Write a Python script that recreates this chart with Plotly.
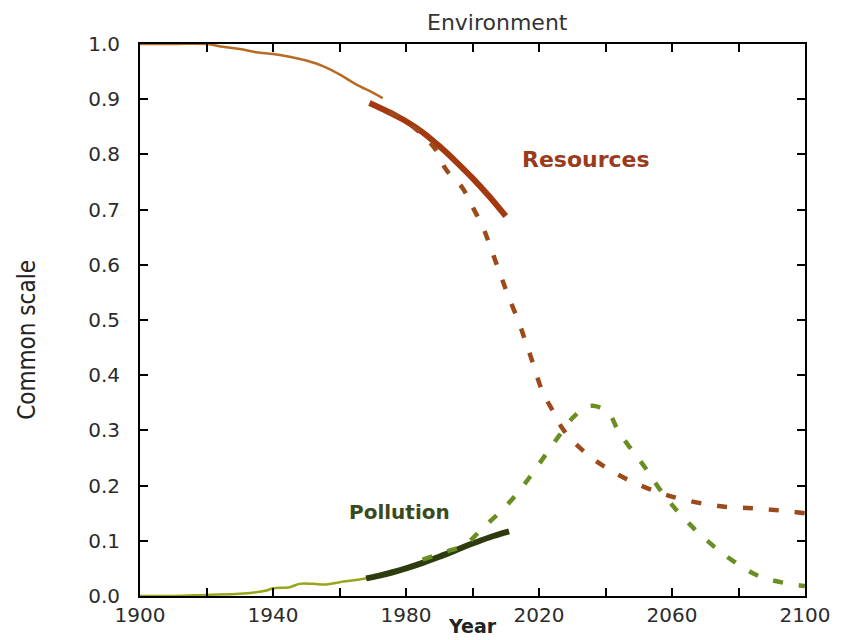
import plotly.graph_objects as go

# ---------------- data ----------------
res_hist_years = [1900, 1910, 1920, 1925, 1930, 1935, 1940, 1945, 1950, 1955, 1960, 1965, 1970, 1973]
res_hist_vals = [1.0, 1.0, 1.0, 0.995, 0.991, 0.985, 0.982, 0.977, 0.970, 0.960, 0.945, 0.927, 0.912, 0.902]

res_obs_years = [1969, 1975, 1980, 1985, 1990, 1995, 2000, 2005, 2010]
res_obs_vals = [0.893, 0.876, 0.860, 0.840, 0.815, 0.787, 0.757, 0.724, 0.688]

res_proj_years = [1975, 1980, 1985, 1989, 1992, 1997, 2000, 2003, 2005, 2007, 2009, 2011, 2014, 2016,
                  2018, 2021, 2024, 2027, 2032, 2039, 2048, 2060, 2074, 2087, 2100]
res_proj_vals = [0.878, 0.860, 0.835, 0.808, 0.773, 0.739, 0.705, 0.670, 0.639, 0.605, 0.572, 0.540,
                 0.495, 0.460, 0.425, 0.371, 0.337, 0.304, 0.270, 0.237, 0.207, 0.180, 0.163, 0.158, 0.150]

pol_hist_years = [1900, 1910, 1920, 1930, 1935, 1938, 1940, 1945, 1948, 1952, 1956, 1960, 1966, 1970]
pol_hist_vals = [0.0, 0.0, 0.002, 0.004, 0.007, 0.010, 0.014, 0.016, 0.022, 0.022, 0.021, 0.025, 0.030, 0.034]

pol_obs_years = [1968, 1972, 1976, 1980, 1985, 1990, 1995, 2000, 2005, 2011]
pol_obs_vals = [0.032, 0.037, 0.043, 0.050, 0.060, 0.071, 0.083, 0.095, 0.106, 0.117]

pol_proj_years = [1985, 1992, 1998, 2003, 2009, 2014, 2018, 2022, 2026, 2030, 2034, 2037, 2041,
                  2044, 2048, 2052, 2056, 2060, 2065, 2071, 2078, 2087, 2100]
pol_proj_vals = [0.066, 0.080, 0.094, 0.123, 0.156, 0.190, 0.222, 0.256, 0.290, 0.322, 0.342, 0.344, 0.331,
                 0.297, 0.264, 0.232, 0.196, 0.165, 0.132, 0.098, 0.065, 0.034, 0.018]

x_tick_vals = [1900, 1920, 1940, 1960, 1980, 2000, 2020, 2040, 2060, 2080, 2100]
x_tick_text = ["1900", "", "1940", "", "1980", "", "2020", "", "2060", "", "2100"]
y_tick_vals = [0.0, 0.1, 0.2, 0.3, 0.4, 0.5, 0.6, 0.7, 0.8, 0.9, 1.0]
y_tick_text = ["0.0", "0.1", "0.2", "0.3", "0.4", "0.5", "0.6", "0.7", "0.8", "0.9", "1.0"]

# ---------------- figure ----------------
fig = go.Figure()
dash_pat = "10px,16px"

fig.add_trace(go.Scatter(x=res_hist_years, y=res_hist_vals, mode="lines", line_shape="spline",
                         line=dict(color="#b86b25", width=2.5), showlegend=False))
fig.add_trace(go.Scatter(x=pol_hist_years, y=pol_hist_vals, mode="lines", line_shape="spline",
                         line=dict(color="#9aa51a", width=2.5), showlegend=False))
fig.add_trace(go.Scatter(x=res_obs_years, y=res_obs_vals, mode="lines", line_shape="spline",
                         line=dict(color="#a5380e", width=6), showlegend=False))
fig.add_trace(go.Scatter(x=pol_obs_years, y=pol_obs_vals, mode="lines", line_shape="spline",
                         line=dict(color="#2d3b0e", width=6), showlegend=False))
fig.add_trace(go.Scatter(x=res_proj_years, y=res_proj_vals, mode="lines", line_shape="spline",
                         line=dict(color="#9c4a1a", width=4.5, dash=dash_pat), showlegend=False))
fig.add_trace(go.Scatter(x=pol_proj_years, y=pol_proj_vals, mode="lines", line_shape="spline",
                         line=dict(color="#6b8e23", width=4.5, dash=dash_pat), showlegend=False))

tick_font = dict(family="DejaVu Sans", size=20, color="#2b2b2b")

fig.update_xaxes(range=[1900, 2100], tickvals=x_tick_vals, ticktext=x_tick_text,
                 showline=True, linecolor="black", linewidth=2, mirror="allticks",
                 ticks="inside", ticklen=8, tickwidth=2, tickcolor="black",
                 showgrid=False, zeroline=False, tickfont=tick_font, ticklabelstandoff=0)
fig.update_yaxes(range=[0, 1.0], tickvals=y_tick_vals, ticktext=y_tick_text,
                 showline=True, linecolor="black", linewidth=2, mirror="allticks",
                 ticks="inside", ticklen=8, tickwidth=2, tickcolor="black",
                 showgrid=False, zeroline=False, tickfont=tick_font, ticklabelstandoff=14)

annotations = [
    dict(text="Environment", xref="paper", yref="paper", x=0.537, y=1.0652,
         xanchor="center", yanchor="top", showarrow=False,
         font=dict(family="DejaVu Sans", size=22, color="#333333")),
    dict(text="Year", xref="paper", yref="paper", x=0.5, y=-0.0543,
         xanchor="center", yanchor="middle", showarrow=False,
         font=dict(family="DejaVu Sans", size=19, color="#222222", weight="bold")),
    dict(text="Common scale", xref="paper", yref="paper", x=-0.170, y=0.464,
         xanchor="center", yanchor="middle", showarrow=False, textangle=-90,
         font=dict(family="Liberation Sans Narrow, DejaVu Sans Condensed, sans-serif", size=24, color="#222222")),
    dict(text="Resources", x=2034, y=0.79, xanchor="center", yanchor="middle", showarrow=False,
         font=dict(family="DejaVu Sans", size=22, color="#9a3b1c", weight="bold")),
    dict(text="Pollution", x=1978, y=0.152, xanchor="center", yanchor="middle", showarrow=False,
         font=dict(family="DejaVu Sans", size=20, color="#3b4a1c", weight="bold")),
]

fig.update_layout(width=848, height=640, margin=dict(l=132, r=51, t=36, b=52, autoexpand=False),
                  paper_bgcolor="white", plot_bgcolor="white", annotations=annotations,
                  showlegend=False)

fig.write_html("out.html")
